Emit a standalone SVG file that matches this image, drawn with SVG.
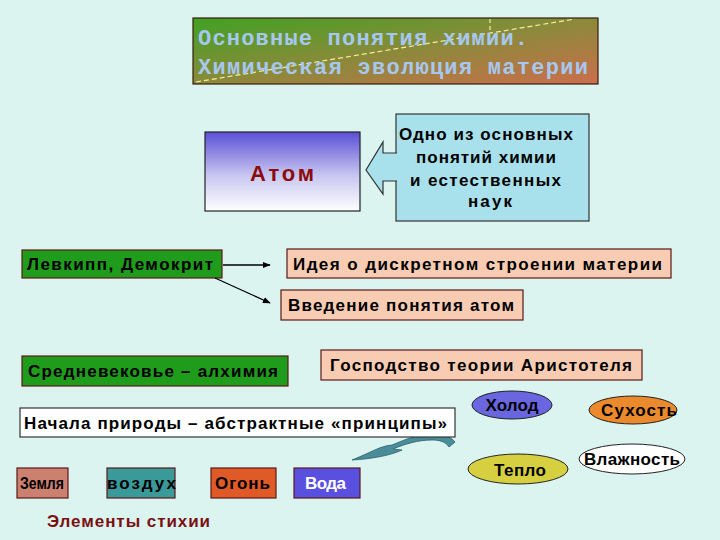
<svg xmlns="http://www.w3.org/2000/svg" width="720" height="540" viewBox="0 0 720 540">
<defs>
<linearGradient id="gTitle" x1="0" y1="0" x2="1" y2="1">
<stop offset="0" stop-color="#3fa222"/>
<stop offset="0.5" stop-color="#8a8a3a"/>
<stop offset="1" stop-color="#cc6e4c"/>
</linearGradient>
<linearGradient id="gAtom" x1="0" y1="0" x2="0" y2="1">
<stop offset="0" stop-color="#5a4fd6"/>
<stop offset="0.55" stop-color="#c8c6f0"/>
<stop offset="1" stop-color="#ffffff"/>
</linearGradient>
<marker id="arr" viewBox="0 0 10 10" refX="9" refY="5" markerWidth="6" markerHeight="6" orient="auto">
<path d="M0,1 L10,5 L0,9 Z" fill="#000"/>
</marker>
<style>
.t{font-family:"Liberation Sans","DejaVu Sans",sans-serif;font-weight:bold;font-size:17px;fill:#000}
.box{stroke:#5a1a1a;stroke-width:1.2}
.green{fill:#1f9c1c}
.peach{fill:#f8ccb2}
.ttl{font-family:"Liberation Mono","DejaVu Sans Mono",monospace;font-size:22px;fill:#a6c8f0;font-weight:bold}
.ell{stroke:#222;stroke-width:1}
</style>
</defs>
<rect width="720" height="540" fill="#dcf4f0"/>

<g id="title">
<rect x="193" y="18" width="405" height="66" fill="url(#gTitle)" stroke="#3a1a10" stroke-width="1.2"/>
<line x1="196" y1="82" x2="575" y2="19" stroke="#f4f0a0" stroke-width="1.2" stroke-dasharray="5,3"/>
<line x1="490" y1="19" x2="490" y2="30" stroke="#f4f0a0" stroke-width="1.2" stroke-dasharray="4,3"/>
<text class="ttl" x="198" y="45" textLength="330" lengthAdjust="spacing">Основные понятия химии.</text>
<text class="ttl" x="198" y="74" textLength="390" lengthAdjust="spacing">Химическая эволюция материи</text>
</g>

<g id="atom">
<rect x="205" y="132" width="155" height="79" fill="url(#gAtom)" stroke="#222" stroke-width="1.2"/>
<text x="282" y="181" text-anchor="middle" font-family="Liberation Sans, sans-serif" font-size="22" font-weight="bold" fill="#8b0a0a" textLength="64" lengthAdjust="spacing">Атом</text>
</g>

<g id="callout">
<rect x="396" y="114" width="193" height="107" fill="#a8e0ec" stroke="#333" stroke-width="1.2"/>
<path d="M397,153 L383,153 L383,142 L366,170 L383,194 L383,181 L397,181" fill="#a8e0ec" stroke="#333" stroke-width="1.2"/>
<text class="t" x="399" y="140" textLength="174" lengthAdjust="spacing">Одно из основных</text>
<text class="t" x="416" y="163" textLength="140" lengthAdjust="spacing">понятий химии</text>
<text class="t" x="410" y="186" textLength="151" lengthAdjust="spacing">и естественных</text>
<text class="t" x="468" y="207" textLength="44" lengthAdjust="spacing">наук</text>
</g>

<g id="leukipp">
<rect class="box green" x="22" y="250" width="200" height="28"/>
<text class="t" x="27" y="270" textLength="186" lengthAdjust="spacing">Левкипп, Демокрит</text>
</g>
<g id="idea">
<rect class="box peach" x="287" y="249" width="384" height="29"/>
<text class="t" x="293" y="270" textLength="369" lengthAdjust="spacing">Идея о дискретном строении материи</text>
</g>
<g id="intro">
<rect class="box peach" x="281" y="290" width="242" height="30"/>
<text class="t" x="288" y="311" textLength="226" lengthAdjust="spacing">Введение понятия атом</text>
</g>

<g id="connectors">
<line x1="223" y1="265" x2="270" y2="265" stroke="#000" stroke-width="1.3" marker-end="url(#arr)"/>
<line x1="215" y1="278" x2="270" y2="303" stroke="#000" stroke-width="1.3" marker-end="url(#arr)"/>
<path d="M352,460 C372,452 380,446 392,445 C404,440 420,433 436,434 C445,434 452,438 455,442 L449,447 C446,442 440,440 432,440 C418,440 405,444 393,449 L402,450 C392,455 372,459 352,460 Z" fill="#4a8c98" stroke="#2a6070" stroke-width="0.8"/>
</g>

<g id="middleages">
<rect class="box green" x="22" y="356" width="266" height="30"/>
<text class="t" x="28" y="377" textLength="250" lengthAdjust="spacing">Средневековье – алхимия</text>
</g>
<g id="aristotle">
<rect class="box peach" x="321" y="350" width="321" height="30"/>
<text class="t" x="330" y="371" textLength="302" lengthAdjust="spacing">Господство теории Аристотеля</text>
</g>
<g id="principles">
<rect x="20" y="408" width="435" height="29" fill="#ffffff" stroke="#333" stroke-width="1.2"/>
<text class="t" x="24" y="429" textLength="423" lengthAdjust="spacing">Начала природы – абстрактные «принципы»</text>
</g>

<g id="cold">
<ellipse class="ell" cx="512" cy="405" rx="40" ry="14" fill="#6a66e0"/>
<text class="t" x="512" y="411" text-anchor="middle" textLength="53" lengthAdjust="spacing">Холод</text>
</g>
<g id="dry">
<ellipse class="ell" cx="633" cy="410" rx="44" ry="14" fill="#ea8a2c"/>
<text class="t" x="639" y="416" text-anchor="middle" textLength="76" lengthAdjust="spacing">Сухость</text>
</g>
<g id="warm">
<ellipse class="ell" cx="518" cy="469" rx="50" ry="15" fill="#d6d040"/>
<text class="t" x="520" y="476" text-anchor="middle" textLength="52" lengthAdjust="spacing">Тепло</text>
</g>
<g id="humid">
<ellipse class="ell" cx="632" cy="459" rx="53" ry="15" fill="#ffffff"/>
<text class="t" x="632" y="465" text-anchor="middle" textLength="96" lengthAdjust="spacing">Влажность</text>
</g>

<g id="earth">
<rect class="box" x="17" y="468" width="51" height="30" fill="#cc8070"/>
<text class="t" x="20" y="489" textLength="44" lengthAdjust="spacingAndGlyphs">Земля</text>
</g>
<g id="air">
<rect class="box" x="107" y="468" width="68" height="30" fill="#3a9a9a"/>
<text class="t" x="107" y="489" textLength="69" lengthAdjust="spacing">воздух</text>
</g>
<g id="fire">
<rect class="box" x="211" y="468" width="65" height="30" fill="#e05a28"/>
<text class="t" x="215" y="489" textLength="55" lengthAdjust="spacing">Огонь</text>
</g>
<g id="water">
<rect class="box" x="294" y="468" width="66" height="30" fill="#5a50e0"/>
<text class="t" x="305" y="489" textLength="41" lengthAdjust="spacing" style="fill:#ffffff">Вода</text>
</g>
<g id="elements">
<text class="t" x="47" y="527" textLength="163" lengthAdjust="spacing" style="fill:#7a1010">Элементы стихии</text>
</g>
</svg>
